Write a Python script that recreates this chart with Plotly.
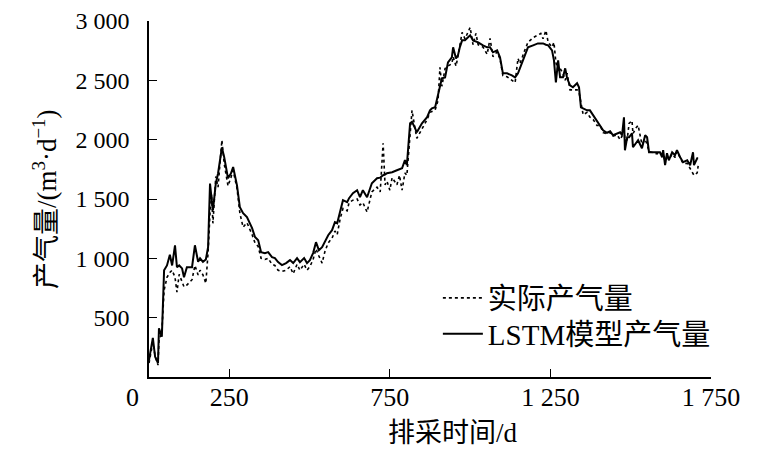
import plotly.graph_objects as go

# drainage time (d)
days = [0, 12, 19, 28, 31, 40, 47, 56, 65, 72, 81, 87, 94, 103, 109, 118, 134, 143, 153, 159,
        168, 177, 184, 190, 195, 199, 208, 215, 227, 234, 246, 255, 262, 274, 283, 293, 305, 321,
        330, 340, 349, 361, 371, 383, 392, 402, 414, 427, 439, 449, 461, 470, 483, 492, 501, 511,
        520, 529, 539, 548, 558, 570, 579, 586, 595, 604, 617, 623, 635, 648, 657, 666, 679, 694,
        710, 720, 729, 735, 741, 750, 757, 772, 780, 788, 797, 803, 813, 819, 828, 834, 850, 866,
        875, 881, 891, 900, 906, 912, 922, 931, 943, 947, 956, 962, 968, 975, 984, 1000, 1009,
        1018, 1025, 1040, 1053, 1062, 1071, 1084, 1093, 1102, 1115, 1130, 1140, 1149, 1155, 1171,
        1180, 1196, 1211, 1220, 1227, 1236, 1243, 1255, 1261, 1267, 1274, 1280, 1289, 1296, 1302,
        1311, 1320, 1333, 1339, 1345, 1352, 1364, 1373, 1383, 1395, 1405, 1414, 1426, 1436, 1445,
        1458, 1467, 1473, 1479, 1482, 1489, 1495, 1504, 1507, 1517, 1523, 1535, 1545, 1551, 1557,
        1570, 1582, 1591, 1598, 1601, 1607, 1613, 1619, 1629, 1638, 1644, 1654, 1663, 1676, 1685,
        1694, 1697, 1707, 1710]

lstm_gas = [143, 330, 170, 118, 410, 340, 900, 940, 1030, 940, 1110, 925, 940, 915, 840, 925, 925,
            1110, 970, 1000, 970, 990, 1095, 1630, 1500, 1405, 1630, 1715, 1935, 1855, 1675, 1715,
            1770, 1615, 1430, 1380, 1347, 1254, 1180, 1153, 1052, 1044, 1052, 1010, 1002, 968, 943,
            960, 985, 960, 1002, 968, 1002, 960, 985, 1044, 1136, 1069, 1094, 1136, 1195, 1237,
            1305, 1296, 1405, 1490, 1473, 1507, 1549, 1574, 1515, 1574, 1515, 1633, 1675, 1680,
            1700, 1705, 1717, 1720, 1726, 1742, 1750, 1759, 1827, 1785, 2138, 2150, 2100, 2062,
            2138, 2189, 2247, 2264, 2273, 2390, 2450, 2517, 2525, 2651, 2694, 2778, 2685, 2710,
            2780, 2837, 2837, 2879, 2837, 2830, 2820, 2795, 2778, 2778, 2736, 2752, 2694, 2559,
            2559, 2542, 2525, 2559, 2601, 2727, 2778, 2795, 2811, 2811, 2811, 2800, 2795, 2752,
            2668, 2483, 2668, 2525, 2525, 2601, 2517, 2458, 2441, 2475, 2441, 2273, 2264, 2247,
            2247, 2205, 2163, 2120, 2079, 2058, 2070, 2037, 2054, 2062, 2037, 2189, 1911, 2020,
            2020, 2054, 1936, 1970, 1995, 1928, 2037, 2020, 1894, 1894, 1894, 1894, 1852, 1911,
            1785, 1886, 1827, 1894, 1869, 1911, 1852, 1810, 1827, 1785, 1894, 1785, 1843, 1843]

actual_gas = [118, 290, 180, 100, 300, 380, 730, 840, 880, 900, 840, 715, 865, 800, 760, 775, 820,
              940, 860, 900, 860, 790, 1050, 1380, 1540, 1295, 1690, 1600, 1995, 1800, 1610, 1680,
              1740, 1590, 1380, 1262, 1300, 1200, 1130, 1100, 1000, 990, 1000, 950, 940, 900, 890,
              900, 930, 870, 950, 900, 950, 900, 930, 990, 1080, 1020, 960, 1060, 1130, 1170, 1230,
              1200, 1330, 1420, 1400, 1470, 1490, 1500, 1450, 1470, 1390, 1560, 1600, 1560, 1970,
              1620, 1650, 1574, 1680, 1620, 1700, 1574, 1720, 1700, 2050, 2247, 2100, 2012, 2090,
              2170, 2230, 2240, 2250, 2330, 2609, 2450, 2600, 2620, 2640, 2700, 2620, 2700, 2780,
              2904, 2850, 2946, 2800, 2895, 2800, 2780, 2720, 2853, 2700, 2740, 2680, 2540, 2530,
              2500, 2480, 2685, 2640, 2760, 2820, 2860, 2880, 2895, 2850, 2920, 2820, 2780, 2820,
              2650, 2580, 2600, 2560, 2500, 2560, 2420, 2420, 2420, 2400, 2300, 2210, 2230, 2190,
              2170, 2120, 2120, 2060, 2050, 2060, 2030, 2040, 2000, 2030, 2100, 1990, 2000, 2138,
              2160, 2050, 2100, 2121, 1960, 2000, 1960, 1900, 1890, 1880, 1900, 1860, 1890, 1800,
              1870, 1830, 1880, 1850, 1900, 1840, 1800, 1800, 1760, 1720, 1700, 1720, 1780]

x_ticks = [250, 750, 1250, 1750]
x_labels = ["250", "750", "1 250", "1 750"]
y_ticks = [500, 1000, 1500, 2000, 2500, 3000]
y_labels = ["500", "1 000", "1 500", "2 000", "2 500", "3 000"]

FONT = "Liberation Serif, Times New Roman, Noto Sans CJK SC, serif"

fig = go.Figure()
fig.add_trace(go.Scatter(x=days, y=actual_gas, mode="lines", name="实际产气量", legend="legend",
                         line=dict(color="black", width=1.6, dash="dot")))
fig.add_trace(go.Scatter(x=days, y=lstm_gas, mode="lines", name="LSTM模型产气量", legend="legend2",
                         line=dict(color="black", width=2)))

legend_style = dict(xanchor="left", yanchor="middle", bgcolor="rgba(0,0,0,0)",
                    font=dict(size=29), itemwidth=40)

# the page body adds an 8px offset at top/left, so the figure is 8px smaller
fig.update_layout(
    width=756, height=455,
    margin=dict(l=141, r=53, t=13, b=86),
    paper_bgcolor="white", plot_bgcolor="white",
    font=dict(family=FONT, color="black"),
    showlegend=True,
    legend=dict(x=0.514, y=(377 - 298) / 356, **legend_style),
    legend2=dict(x=0.514, y=(377 - 334) / 356, **legend_style),
)
fig.update_xaxes(range=[0, 1750], tickvals=x_ticks, ticktext=x_labels, automargin=False,
                 showline=True, linecolor="black", linewidth=1.5, showgrid=False, zeroline=False,
                 ticks="inside", ticklen=8, tickcolor="black", tickfont=dict(size=26),
                 ticklabelstandoff=-4)
fig.update_yaxes(range=[0, 3000], tickvals=y_ticks, ticktext=y_labels, automargin=False,
                 showline=True, linecolor="black", linewidth=1.5, showgrid=False, zeroline=False,
                 ticks="inside", ticklen=8, tickcolor="black", tickfont=dict(size=24),
                 ticklabelstandoff=13)

# origin label and axis titles
fig.add_annotation(x=0, y=0, xref="x", yref="y", text="0", showarrow=False,
                   xshift=-17, yshift=-20, font=dict(size=26))
fig.add_annotation(x=(453 - 149) / 562, y=-(433 - 377) / 356, xref="paper", yref="paper",
                   xanchor="center", yanchor="middle", text="排采时间/d", showarrow=False,
                   font=dict(size=27))
fig.add_annotation(x=-(149 - 45) / 562, y=0.5, xref="paper", yref="paper",
                   xanchor="center", yanchor="middle",
                   text="产气量/(m<sup>3</sup>·d<sup>−1</sup>)", showarrow=False,
                   textangle=-90, font=dict(size=27))

fig.write_html("out.html")
